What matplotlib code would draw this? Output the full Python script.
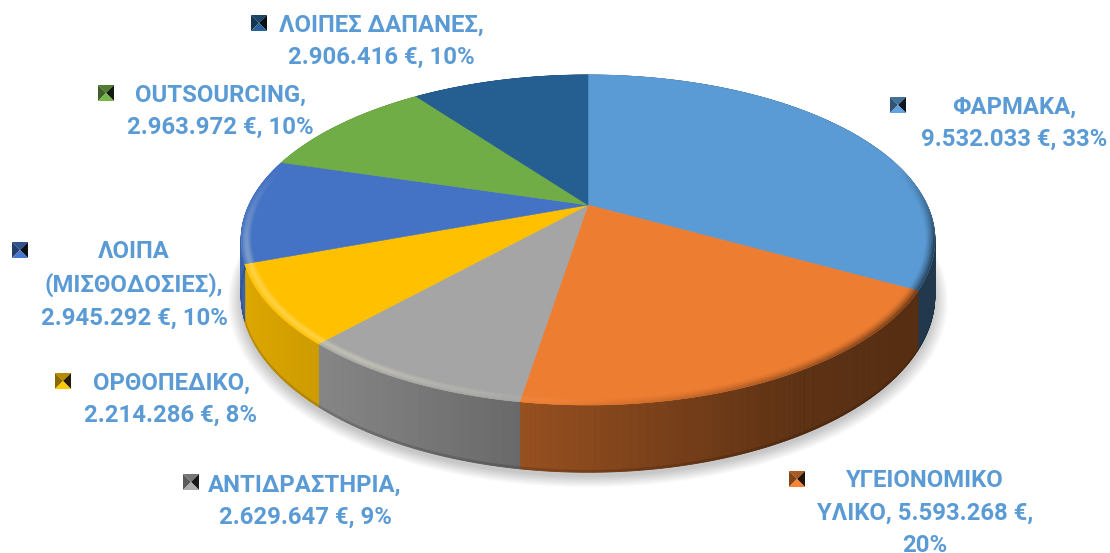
import numpy as np
import matplotlib
matplotlib.use("Agg")
import matplotlib.pyplot as plt
from matplotlib.collections import PolyCollection
from matplotlib.colors import to_rgb
from matplotlib.patches import Polygon

# ---- data ----
categories = ["ΦΑΡΜΑΚΑ", "ΥΓΕΙΟΝΟΜΙΚΟ ΥΛΙΚΟ", "ΑΝΤΙΔΡΑΣΤΗΡΙΑ", "ΟΡΘΟΠΕΔΙΚΟ",
              "ΛΟΙΠΑ (ΜΙΣΘΟΔΟΣΙΕΣ)", "OUTSOURCING", "ΛΟΙΠΕΣ ΔΑΠΑΝΕΣ"]
values = [9532033, 5593268, 2629647, 2214286, 2945292, 2963972, 2906416]
labels = ["ΦΑΡΜΑΚΑ,\n9.532.033 €, 33%",
          "ΥΓΕΙΟΝΟΜΙΚΟ\nΥΛΙΚΟ, 5.593.268 €,\n20%",
          "ΑΝΤΙΔΡΑΣΤΗΡΙΑ,\n2.629.647 €, 9%",
          "ΟΡΘΟΠΕΔΙΚΟ,\n2.214.286 €, 8%",
          "ΛΟΙΠΑ\n(ΜΙΣΘΟΔΟΣΙΕΣ),\n2.945.292 €, 10%",
          "OUTSOURCING,\n2.963.972 €, 10%",
          "ΛΟΙΠΕΣ ΔΑΠΑΝΕΣ,\n2.906.416 €, 10%"]
colors = ["#5b9bd5", "#ed7d31", "#a5a5a5", "#ffc000", "#4472c4", "#70ad47", "#255e91"]

# ---- layout ----
label_pos = [(1014, 123), (925, 513), (305, 501), (171, 399), (134, 285), (220, 111), (381, 41)]
key_pos = [(898, 105), (797, 479), (191, 482), (63, 381), (20, 250), (106, 93), (259, 23)]
CX, CY, A, B, K, DEPTH = 588, 205, 339, 157.6, 0.212, 53
TEXT = "#5b9bd5"

fig = plt.figure(figsize=(11.10, 5.53), dpi=100, facecolor="white")
ax = fig.add_axes([0, 0, 1, 1])
ax.set_xlim(0, 1110)
ax.set_ylim(553, 0)
ax.axis("off")


def project(theta, r=1.0, drop=0.0):
    """theta: clockwise from top (radians); perspective view of the disc."""
    u, v = r * np.sin(theta), r * np.cos(theta)
    w = 1 + K * v
    return CX + A * u / w, CY - B * v / w + drop / w


def scaled(c, f):
    return tuple(np.clip(np.array(to_rgb(c)) * f, 0, 1))


def mixed(c, other, t):
    return tuple(np.array(to_rgb(c)) * (1 - t) + np.array(other) * t)


fractions = np.array(values) / np.sum(values)
edges = np.concatenate([[0], np.cumsum(fractions)]) * 2 * np.pi

# soft shadow
full = np.linspace(0, 2 * np.pi, 360)
xs, ys = project(full, 1.0, DEPTH)
for s in np.linspace(0.05, 0.0, 14):
    ax.add_patch(Polygon(np.c_[CX + (xs - CX) * (1 + s * 0.75), 250 + (ys - 250) * (1 + s) + 4],
                         closed=True, fc="black", ec="none", alpha=0.016, zorder=1))

# side wall
shade_x = [241, 330, 525, 800, 935]
shade_f = [0.87, 0.80, 0.63, 0.39, 0.36]
for i, c in enumerate(colors):
    n = max(int((edges[i + 1] - edges[i]) * 200), 8)
    th = np.linspace(edges[i], edges[i + 1], n + 1)
    polys, cols = [], []
    for a, b in zip(th[:-1], th[1:]):
        xa, ya = project(a)
        xb, yb = project(b)
        xa2, ya2 = project(a, 1, DEPTH * 0.97)
        xb2, yb2 = project(b, 1, DEPTH * 0.97)
        xa3, ya3 = project(a, 1, DEPTH)
        xb3, yb3 = project(b, 1, DEPTH)
        f = np.interp((xa + xb) / 2, shade_x, shade_f)
        polys.append([(xa, ya), (xb, yb), (xb2, yb2), (xa2, ya2)])
        cols.append(scaled(c, f))
        polys.append([(xa2, ya2), (xb2, yb2), (xb3, yb3), (xa3, ya3)])
        cols.append(scaled(c, f * 0.85))
    ax.add_collection(PolyCollection(polys, facecolors=cols, edgecolors=cols, linewidths=0.6, zorder=2))

# top surface
for i, c in enumerate(colors):
    th = np.linspace(edges[i], edges[i + 1], 120)
    x, y = project(th)
    ax.add_patch(Polygon(np.c_[np.r_[CX, x], np.r_[CY, y]], closed=True, fc=c, ec=c, lw=0.4, zorder=3))

# bevel along the front rim
bands = np.linspace(0.972, 1.0, 7)
for i, c in enumerate(colors):
    n = max(int((edges[i + 1] - edges[i]) * 100), 6)
    th = np.linspace(edges[i], edges[i + 1], n + 1)
    polys, cols = [], []
    for a, b in zip(th[:-1], th[1:]):
        v = np.cos((a + b) / 2)
        mx = CX + A * np.sin((a + b) / 2)
        front = np.clip((0.25 - v) / 0.5, 0, 1)
        light = np.interp(mx, [241, 400, 520, 620], [0.30, 0.30, 0.08, 0.0]) * front
        dark = np.interp(mx, [560, 760, 930], [0.0, 0.35, 0.65]) * front
        for k, (r0, r1) in enumerate(zip(bands[:-1], bands[1:])):
            t = (k + 0.5) / (len(bands) - 1)
            xa0, ya0 = project(a, r0)
            xb0, yb0 = project(b, r0)
            xa1, ya1 = project(a, r1)
            xb1, yb1 = project(b, r1)
            col = mixed(c, (1, 1, 0.85), light * np.sin(np.pi * t))
            col = scaled(col, 1 - dark * t ** 1.5)
            polys.append([(xa0, ya0), (xb0, yb0), (xb1, yb1), (xa1, ya1)])
            cols.append(col)
    ax.add_collection(PolyCollection(polys, facecolors=cols, edgecolors=cols, linewidths=0.3, zorder=4))

# labels and keys
FONT = ["Roboto", "Open Sans", "DejaVu Sans"]
for lab, (lx, ly) in zip(labels, label_pos):
    ax.text(lx, ly, lab, ha="center", va="center", color=TEXT, fontsize=17.2, fontweight="bold",
            family=FONT, linespacing=1.52, zorder=6, clip_on=False)

H = 8
for c, (kx, ky) in zip(colors, key_pos):
    tl, tr, br, bl = (kx - H, ky - H), (kx + H, ky - H), (kx + H, ky + H), (kx - H, ky + H)
    m = (kx, ky)
    ax.add_patch(Polygon([tl, tr, m], fc=scaled(c, 0.72), ec="none", zorder=5))
    ax.add_patch(Polygon([tl, bl, m], fc=scaled(c, 0.55), ec="none", zorder=5))
    ax.add_patch(Polygon([tr, br, m], fc=scaled(c, 0.15), ec="none", zorder=5))
    ax.add_patch(Polygon([bl, br, m], fc=scaled(c, 1.05), ec="none", zorder=5))

fig.savefig("out.png", dpi=100, facecolor="white")
